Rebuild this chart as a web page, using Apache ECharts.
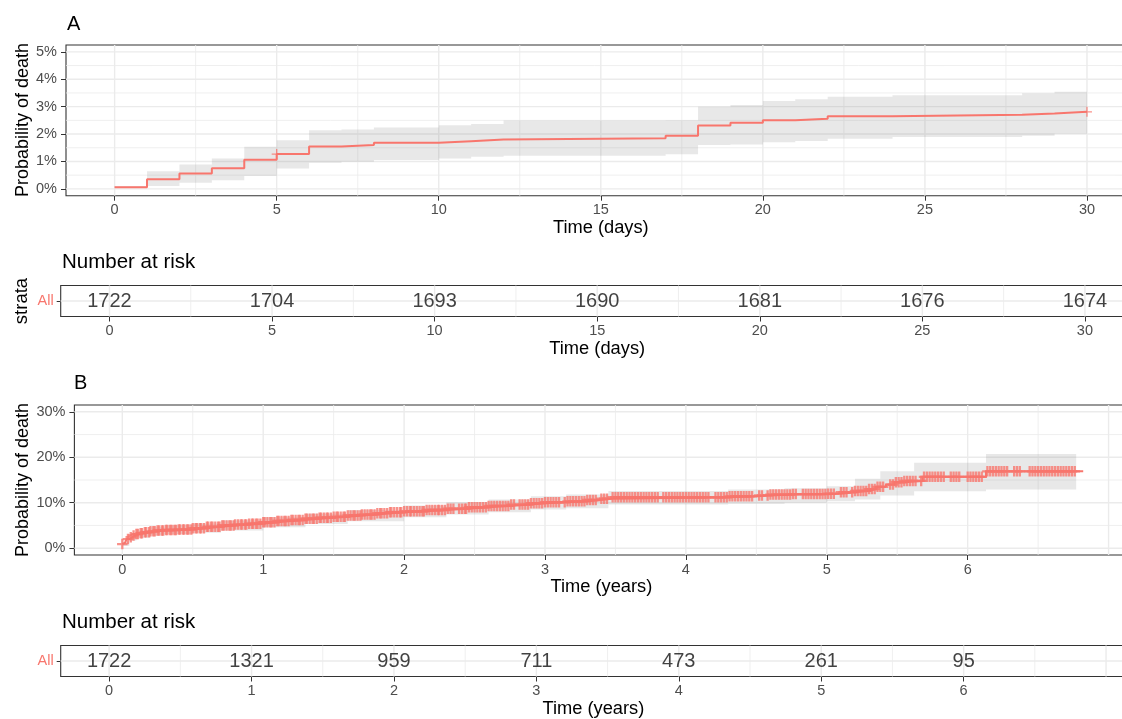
<!DOCTYPE html>
<html><head><meta charset="utf-8">
<script src="https://cdn.jsdelivr.net/npm/echarts@6/dist/echarts.min.js"></script>
<style>html,body{margin:0;padding:0;background:#fff;overflow:hidden}#c{width:1122px;height:719px}</style>
</head><body><div id="c"></div>
<script>
// ---------- Panel A (30 days) ----------
const stepTimesA = [0,1,2,3,4,5,6,7,8,10,11,12,17,18,19,20,21,22,24,28,29,30];
const stepValsA  = [0.06,0.35,0.56,0.75,1.06,1.27,1.55,1.60,1.68,1.74,1.80,1.85,1.94,2.31,2.41,2.50,2.56,2.65,2.70,2.75,2.81,2.81];
const bandLowA   = [0.03,0.10,0.22,0.31,0.47,0.74,0.95,0.99,1.05,1.11,1.17,1.21,1.26,1.60,1.62,1.70,1.75,1.83,1.89,1.94,2.01,2.01];
const bandHighA  = [0.10,0.64,0.89,1.11,1.54,1.77,2.14,2.17,2.24,2.32,2.37,2.49,2.50,3.00,3.06,3.21,3.27,3.36,3.42,3.49,3.54,3.54];
const censorTimesA = [5,30];
const xTicksA = [0,5,10,15,20,25,30];
const xMinorA = [2.5,7.5,12.5,17.5,22.5,27.5];
const yTicksA = [0,1,2,3,4,5];
const yMinorA = [0.5,1.5,2.5,3.5,4.5];
const riskTimesA = [0,5,10,15,20,25,30];
const riskCountsA = [1722,1704,1693,1690,1681,1676,1674];

// ---------- Panel B (years) ----------
const stepTimesB = [0,0.01,0.02,0.03,0.05,0.07,0.09,0.12,0.16,0.2,0.25,0.3,0.4,0.5,0.6,0.7,0.8,0.9,1.0,1.1,1.2,1.3,1.4,1.5,1.6,1.7,1.8,1.9,2.0,2.15,2.3,2.45,2.6,2.75,2.9,3.0,3.15,3.3,3.4,3.47,4.3,4.5,4.6,4.75,5.0,5.1,5.2,5.3,5.35,5.42,5.48,5.55,5.68,6.13,6.82];
const stepValsB  = [0.9,1.2,1.6,2.0,2.4,2.8,3.1,3.3,3.5,3.7,3.9,4.0,4.1,4.4,4.7,5.0,5.2,5.4,5.7,6.0,6.2,6.5,6.7,6.9,7.2,7.4,7.7,7.9,8.1,8.4,8.7,9.0,9.3,9.6,9.9,10.1,10.3,10.6,10.9,11.2,11.4,11.6,11.8,11.9,12.0,12.3,12.6,13.0,13.5,14.0,14.5,14.8,15.7,16.9,16.9];
const bandTimesB = [0,0.05,0.1,0.2,0.3,0.5,0.7,1.0,1.3,1.6,2.0,2.3,2.6,2.9,3.15,3.45,4.3,4.7,5.0,5.2,5.38,5.62,6.13,6.77];
const bandLowB   = [0.5,1.7,2.3,2.8,3.1,3.4,3.9,4.6,5.3,5.9,6.8,7.4,7.9,8.5,8.8,9.6,9.8,10.0,10.3,10.7,11.6,12.5,12.9,12.9];
const bandHighB  = [1.4,3.1,3.9,4.6,5.0,5.4,6.1,6.8,7.6,8.4,9.4,10.1,10.7,11.4,11.8,12.6,12.9,13.2,13.6,15.3,16.9,18.8,20.7,20.7];
const censorTimesB = [
  0.0,0.04,0.06,0.08,0.1,0.11,0.13,0.14,0.16,0.17,0.19,0.2,0.22,0.23,0.25,0.26,0.28,0.29,0.31,0.32,0.34,0.35,0.37,0.38,0.4,0.41,0.43,0.44,0.46,0.47,0.49,
  0.5,0.52,0.53,0.55,0.56,0.58,0.6,0.61,0.63,0.64,0.66,0.68,0.69,0.71,0.72,0.74,0.76,0.77,0.79,0.8,0.82,0.84,0.85,0.87,0.88,0.9,0.92,0.93,0.95,0.96,0.98,
  1.0,1.01,1.03,1.05,1.06,1.08,1.1,1.11,1.13,1.15,1.16,1.18,1.2,1.21,1.23,1.25,1.26,1.28,1.3,1.31,1.33,1.35,1.36,1.38,1.4,1.41,1.43,1.45,1.46,1.48,
  1.5,1.52,1.53,1.55,1.57,1.58,1.6,1.62,1.64,1.65,1.67,1.69,1.7,1.72,1.74,1.76,1.77,1.79,1.81,1.83,1.84,1.86,1.88,1.9,1.91,1.93,1.95,1.97,1.98,
  2.0,2.02,2.04,2.05,2.07,2.09,2.11,2.13,2.14,2.16,2.18,2.2,2.22,2.24,2.25,2.27,2.29,2.31,2.33,2.35,2.39,2.41,2.43,2.44,2.46,2.48,
  2.5,2.52,2.54,2.56,2.58,2.6,2.62,2.64,2.66,2.68,2.7,2.72,2.74,2.76,2.78,2.82,2.84,2.86,2.88,2.9,2.92,2.94,2.96,2.98,
  3.0,3.02,3.04,3.06,3.08,3.1,3.14,3.16,3.18,3.2,3.22,3.24,3.26,3.28,3.3,3.32,3.34,3.36,3.4,3.42,3.44,3.48,
  3.5,3.52,3.54,3.56,3.58,3.6,3.62,3.64,3.66,3.68,3.7,3.72,3.74,3.76,3.78,3.8,3.84,3.86,3.88,3.9,3.92,3.94,3.96,3.98,
  4.0,4.02,4.04,4.06,4.08,4.1,4.12,4.14,4.16,4.21,4.23,4.25,4.27,4.29,4.31,4.33,4.35,4.37,4.39,4.41,4.43,4.45,4.47,
  4.52,4.54,4.58,4.6,4.62,4.64,4.66,4.68,4.7,4.72,4.74,4.76,4.78,4.83,4.85,4.87,4.89,4.91,4.93,4.95,4.97,4.99,
  5.01,5.03,5.05,5.1,5.12,5.14,5.18,5.2,5.22,5.24,5.26,5.28,5.3,5.32,5.34,5.36,5.38,5.4,5.45,5.47,5.49,
  5.51,5.53,5.55,5.57,5.59,5.61,5.63,5.67,5.69,5.71,5.73,5.75,5.77,5.79,5.81,5.83,5.88,5.9,5.92,5.94,6.0,
  6.02,6.04,6.06,6.08,6.1,6.14,6.16,6.18,6.2,6.22,6.24,6.26,6.28,6.33,6.35,6.37,6.44,6.46,6.48,6.5,6.52,6.54,6.56,6.58,6.6,6.62,6.64,6.66,6.68,6.7,6.72,6.74,6.76
];
const xTicksB = [0,1,2,3,4,5,6];
const xGridB = [0,1,2,3,4,5,6,7];
const xMinorB = [0.5,1.5,2.5,3.5,4.5,5.5,6.5];
const yTicksB = [0,10,20,30];
const yMinorB = [5,15,25];
const riskTimesB = [0,1,2,3,4,5,6];
const riskCountsB = [1722,1321,959,711,473,261,95];

const strataNames = ['All'];

// ---------- styling ----------
const FONT = 'Liberation Sans';
const RED = '#F8766D';
const PLUS_A = 'path://M4.35,0H5.65V4.35H10V5.65H5.65V10H4.35V5.65H0V4.35H4.35Z';
const PLUS_B = 'path://M3.9,0H6.1V3.9H10V6.1H6.1V10H3.9V6.1H0V3.9H3.9Z';

function stepAt(times, vals, t) {
  let v = vals[0];
  for (let i = 0; i < times.length; i++) if (times[i] <= t + 1e-9) v = vals[i];
  return v;
}

function gridSeries(idx, majX, minX, majY, minY, yRef) {
  return {
    type: 'custom', xAxisIndex: idx, yAxisIndex: idx, silent: true, z: 1,
    data: [[majX[0], yRef]],
    renderItem: function (params, api) {
      const cs = params.coordSys; const ch = [];
      const add = (x1, y1, x2, y2, w) => ch.push({type: 'line', shape: {x1, y1, x2, y2}, style: {stroke: '#EBEBEB', lineWidth: w}});
      minX.forEach(v => { const x = api.coord([v, yRef])[0]; add(x, cs.y, x, cs.y + cs.height, 0.8); });
      minY.forEach(v => { const y = api.coord([majX[0], v])[1]; add(cs.x, y, cs.x + cs.width, y, 0.8); });
      majX.forEach(v => { const x = api.coord([v, yRef])[0]; add(x, cs.y, x, cs.y + cs.height, 1.4); });
      majY.forEach(v => { const y = api.coord([majX[0], v])[1]; add(cs.x, y, cs.x + cs.width, y, 1.4); });
      return {type: 'group', children: ch};
    }
  };
}

function bandSeries(idx, times, lo, hi) {
  return {
    type: 'custom', xAxisIndex: idx, yAxisIndex: idx, silent: true, z: 2,
    data: [[times[0], lo[0]]],
    renderItem: function (params, api) {
      const pts = [];
      for (let i = 0; i < times.length - 1; i++) {
        pts.push(api.coord([times[i], hi[i]]));
        pts.push(api.coord([times[i + 1], hi[i]]));
      }
      for (let i = times.length - 2; i >= 0; i--) {
        pts.push(api.coord([times[i + 1], lo[i]]));
        pts.push(api.coord([times[i], lo[i]]));
      }
      return {type: 'polygon', shape: {points: pts}, style: {fill: 'rgba(128,128,128,0.18)'}};
    }
  };
}

function lineSeries(idx, times, vals) {
  return {
    type: 'line', xAxisIndex: idx, yAxisIndex: idx, step: 'end', showSymbol: false, silent: true, z: 3,
    data: times.map((t, i) => [t, vals[i]]),
    lineStyle: {color: RED, width: 2}
  };
}

function censorSeries(idx, ctimes, times, vals, sym, size) {
  return {
    type: 'scatter', xAxisIndex: idx, yAxisIndex: idx, silent: true, z: 4,
    symbol: sym, symbolSize: size,
    itemStyle: {color: RED},
    data: ctimes.map(t => [t, stepAt(times, vals, t)])
  };
}

function riskSeries(idx, times, counts) {
  return {
    type: 'scatter', xAxisIndex: idx, yAxisIndex: idx, silent: true, z: 4,
    symbolSize: 1, itemStyle: {color: 'rgba(0,0,0,0)'},
    data: times.map(t => [t, strataNames[0]]),
    label: {show: true, position: 'inside', formatter: p => String(counts[p.dataIndex]),
      fontSize: 20, color: '#111', fontFamily: FONT}
  };
}

const tickLbl = {fontSize: 14.5, color: '#4D4D4D', fontFamily: FONT};
const nameSty = {fontSize: 18.3, color: '#000', fontFamily: FONT};
const tickSty = {show: true, length: 5, lineStyle: {color: '#333', width: 1}};

function xAxisDef(idx, min, max, ticks, name) {
  return {
    type: 'value', gridIndex: idx, min: min, max: max,
    axisLine: {show: false, onZero: false}, splitLine: {show: false},
    axisTick: Object.assign({customValues: ticks}, tickSty),
    axisLabel: Object.assign({customValues: ticks, margin: 7}, tickLbl),
    name: name, nameLocation: 'middle', nameGap: 23, nameTextStyle: nameSty
  };
}
function yAxisDef(idx, min, max, ticks) {
  return {
    type: 'value', gridIndex: idx, min: min, max: max,
    axisLine: {show: false, onZero: false}, splitLine: {show: false},
    axisTick: Object.assign({customValues: ticks}, tickSty),
    axisLabel: Object.assign({customValues: ticks, margin: 9, formatter: v => v + '%'}, tickLbl)
  };
}
function yCatDef(idx) {
  return {
    type: 'category', gridIndex: idx, data: strataNames,
    axisLine: {show: false, onZero: false}, splitLine: {show: false},
    axisTick: {show: true, alignWithLabel: true, length: 4, lineStyle: {color: '#333'}},
    axisLabel: {margin: 7, fontSize: 14.5, color: RED, fontFamily: FONT}
  };
}

const gridBase = {show: true, borderColor: '#333333', borderWidth: 1.1, backgroundColor: '#fff', containLabel: false, outerBoundsMode: 'none'};

const option = {
  animation: false,
  backgroundColor: '#fff',
  title: [
    {text: 'A', left: 67, top: 14, padding: 0, textStyle: {fontSize: 20, fontWeight: 'normal', color: '#000', fontFamily: FONT}},
    {text: 'Number at risk', left: 62, top: 252, padding: 0, textStyle: {fontSize: 20.5, fontWeight: 'normal', color: '#000', fontFamily: FONT}},
    {text: 'B', left: 74, top: 373, padding: 0, textStyle: {fontSize: 20, fontWeight: 'normal', color: '#000', fontFamily: FONT}},
    {text: 'Number at risk', left: 62, top: 612, padding: 0, textStyle: {fontSize: 20.5, fontWeight: 'normal', color: '#000', fontFamily: FONT}}
  ],
  graphic: [
    {type: 'text', x: 23, y: 120, rotation: Math.PI / 2, style: {text: 'Probability of death', align: 'center', verticalAlign: 'middle', font: '18px "Liberation Sans"', fill: '#000'}},
    {type: 'text', x: 23, y: 480, rotation: Math.PI / 2, style: {text: 'Probability of death', align: 'center', verticalAlign: 'middle', font: '18px "Liberation Sans"', fill: '#000'}},
    {type: 'text', x: 22, y: 301, rotation: Math.PI / 2, style: {text: 'strata', align: 'center', verticalAlign: 'middle', font: '18.5px "Liberation Sans"', fill: '#000'}}
  ],
  grid: [
    Object.assign({left: 66, top: 45, width: 1069.6, height: 150.7}, gridBase),
    Object.assign({left: 60.7, top: 285.5, width: 1073, height: 31}, gridBase),
    Object.assign({left: 74.4, top: 405, width: 1053.9, height: 150}, gridBase),
    Object.assign({left: 60.7, top: 645.5, width: 1065.3, height: 31}, gridBase)
  ],
  xAxis: [
    xAxisDef(0, -1.5, 31.5, xTicksA, 'Time (days)'),
    xAxisDef(1, -1.5, 31.5, riskTimesA, 'Time (days)'),
    xAxisDef(2, -0.34, 7.14, xTicksB, 'Time (years)'),
    xAxisDef(3, -0.34, 7.14, riskTimesB, 'Time (years)')
  ],
  yAxis: [
    yAxisDef(0, -0.25, 5.25, yTicksA),
    yCatDef(1),
    yAxisDef(2, -1.5, 31.5, yTicksB),
    yCatDef(3)
  ],
  series: [
    gridSeries(0, xTicksA, xMinorA, yTicksA, yMinorA, 0),
    bandSeries(0, stepTimesA, bandLowA, bandHighA),
    lineSeries(0, stepTimesA, stepValsA),
    censorSeries(0, censorTimesA, stepTimesA, stepValsA, PLUS_A, 10),

    gridSeries(1, xTicksA, xMinorA, [], [], 0),
    {type: 'custom', xAxisIndex: 1, yAxisIndex: 1, silent: true, z: 1, data: [[0, 0]],
      renderItem: (params, api) => { const cs = params.coordSys; const y = api.coord([0, 0])[1];
        return {type: 'line', shape: {x1: cs.x, y1: y, x2: cs.x + cs.width, y2: y}, style: {stroke: '#EBEBEB', lineWidth: 1.4}}; }},
    riskSeries(1, riskTimesA, riskCountsA),

    gridSeries(2, xGridB, xMinorB, yTicksB, yMinorB, 0),
    bandSeries(2, bandTimesB, bandLowB, bandHighB),
    lineSeries(2, stepTimesB, stepValsB),
    censorSeries(2, censorTimesB, stepTimesB, stepValsB, PLUS_B, 10.5),

    gridSeries(3, xGridB, xMinorB, [], [], 0),
    {type: 'custom', xAxisIndex: 3, yAxisIndex: 3, silent: true, z: 1, data: [[0, 0]],
      renderItem: (params, api) => { const cs = params.coordSys; const y = api.coord([0, 0])[1];
        return {type: 'line', shape: {x1: cs.x, y1: y, x2: cs.x + cs.width, y2: y}, style: {stroke: '#EBEBEB', lineWidth: 1.4}}; }},
    riskSeries(3, riskTimesB, riskCountsB)
  ]
};

const chart = echarts.init(document.getElementById('c'), null, {renderer: 'canvas'});
chart.setOption(option);
</script>
</body></html>
